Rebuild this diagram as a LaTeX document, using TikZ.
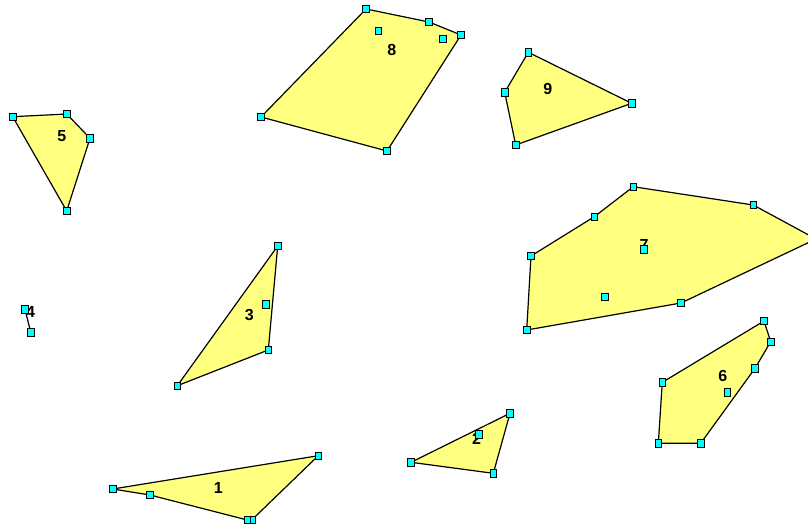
\documentclass[tikz,border=0pt]{standalone}
\usepackage{fontspec}
\setmainfont{Liberation Sans}
\definecolor{polyfill}{RGB}{255,255,128}
\definecolor{mkfill}{RGB}{0,255,255}
\tikzset{
  poly/.style={draw=black, fill=polyfill, line width=1.2pt, line join=round},
  mk/.style={draw=black, fill=mkfill, minimum width=6.5pt, minimum height=7.5pt, inner sep=0pt, line width=0.8pt},
  lbl/.style={font=\fontsize{16}{16}\selectfont\bfseries, inner sep=0pt, text=black}
}
\begin{document}
\begin{tikzpicture}[x=1pt,y=-1pt]
\useasboundingbox (0,0) rectangle (808,527);
\clip (0,0) rectangle (808,527);
% polygon 8
\coordinate (p8a) at (366,9);
\coordinate (p8b) at (429,22);
\coordinate (p8c) at (461,35);
\coordinate (p8d) at (387,151);
\coordinate (p8e) at (261,117);
\coordinate (p8f) at (378.5,31);
\coordinate (p8g) at (443,39);
\draw[poly] (p8a) -- (p8b) -- (p8c) -- (p8d) -- (p8e) -- cycle;
% polygon 5
\coordinate (p5a) at (12.7,116.7);
\coordinate (p5b) at (66.7,114);
\coordinate (p5c) at (90,138.3);
\coordinate (p5d) at (66.7,211);
\draw[poly] (p5a) -- (p5b) -- (p5c) -- (p5d) -- cycle;
% polygon 9
\coordinate (p9a) at (528.3,52.3);
\coordinate (p9b) at (631.7,103.3);
\coordinate (p9c) at (515.7,145);
\coordinate (p9d) at (504.7,92.3);
\draw[poly] (p9a) -- (p9b) -- (p9c) -- (p9d) -- cycle;
% polygon 7
\coordinate (p7a) at (633.3,186.7);
\coordinate (p7b) at (753.3,205);
\coordinate (p7c) at (816,239);
\coordinate (p7d) at (681,303);
\coordinate (p7e) at (526.7,330);
\coordinate (p7f) at (531,256);
\coordinate (p7g) at (594.3,216.7);
\coordinate (p7h) at (643.7,249.3);
\coordinate (p7i) at (605,296.7);
\draw[poly] (p7a) -- (p7b) -- (p7c) -- (p7d) -- (p7e) -- (p7f) -- (p7g) -- cycle;
% polygon 6
\coordinate (p6a) at (764,321);
\coordinate (p6b) at (770.7,341.7);
\coordinate (p6c) at (755,368.3);
\coordinate (p6d) at (700.7,443.3);
\coordinate (p6e) at (658.3,443.3);
\coordinate (p6f) at (662.3,382.3);
\coordinate (p6g) at (727.3,392.3);
\draw[poly] (p6a) -- (p6b) -- (p6c) -- (p6d) -- (p6e) -- (p6f) -- cycle;
% polygon 1
\coordinate (p1a) at (112.7,489);
\coordinate (p1b) at (318.3,455.7);
\coordinate (p1c) at (251.7,520);
\coordinate (p1d) at (247.3,520);
\coordinate (p1e) at (150,495);
\draw[poly] (p1a) -- (p1b) -- (p1c) -- (p1d) -- (p1e) -- cycle;
% polygon 2
\coordinate (p2a) at (411,462.3);
\coordinate (p2b) at (510,413.3);
\coordinate (p2c) at (493.3,473.3);
\coordinate (p2d) at (479,434.3);
\draw[poly] (p2a) -- (p2b) -- (p2c) -- cycle;
% polygon 3
\coordinate (p3a) at (277.7,246);
\coordinate (p3b) at (268.3,350);
\coordinate (p3c) at (177.3,385.7);
\coordinate (p3d) at (265.7,304.3);
\draw[poly] (p3a) -- (p3b) -- (p3c) -- cycle;
% polygon 4
\coordinate (p4a) at (25,309.3);
\coordinate (p4b) at (30.7,332.3);
\draw[line width=1.2pt] (p4a) -- (p4b);
% labels
\node[lbl] (l8) at (391.7,50) {8};
\node[lbl] (l5) at (61.7,136) {5};
\node[lbl] (l9) at (547.7,89.3) {9};
\node[lbl] (l7) at (644,244.5) {7};
\node[lbl] (l6) at (722.7,376) {6};
\node[lbl] (l1) at (218.3,487.7) {1};
\node[lbl] (l2) at (476.5,438.5) {2};
\node[lbl] (l3) at (249.3,315) {3};
\node[lbl] (l4) at (30.5,312) {4};
% markers
\foreach \p in {p8a,p8b,p8c,p8d,p8e,p8f,p8g,p5a,p5b,p5c,p5d,p9a,p9b,p9c,p9d,
  p7a,p7b,p7c,p7d,p7e,p7f,p7g,p7h,p7i,p6a,p6b,p6c,p6d,p6e,p6f,p6g,
  p1a,p1b,p1c,p1d,p1e,p2a,p2b,p2c,p2d,p3a,p3b,p3c,p3d,p4a,p4b}
  \node[mk] (m-\p) at (\p) {};
\end{tikzpicture}
\end{document}
